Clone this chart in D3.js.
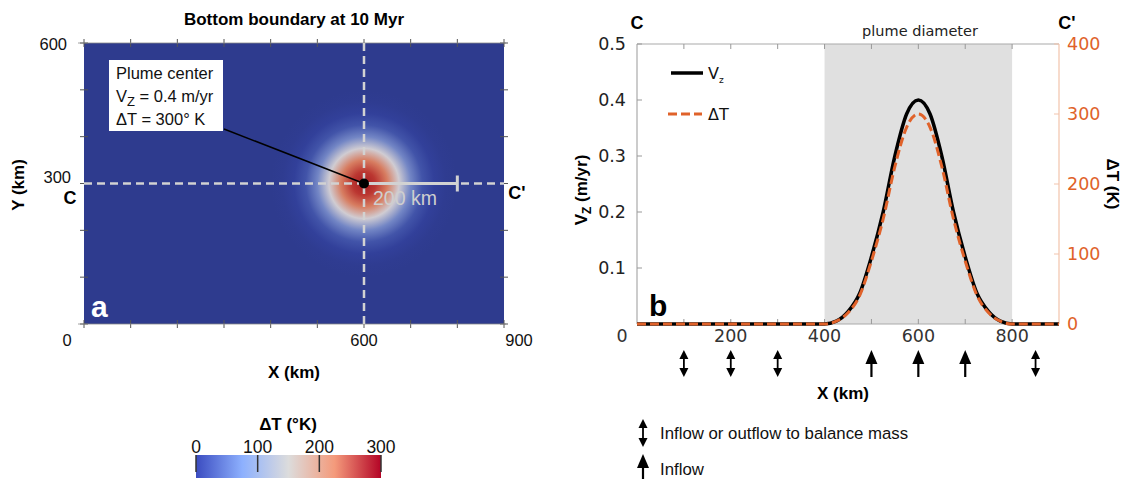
<!DOCTYPE html>
<html><head><meta charset="utf-8">
<script src="https://cdn.jsdelivr.net/npm/d3@7"></script>
<style>
html,body{margin:0;padding:0;background:#fff;}
svg{display:block;}
</style></head>
<body>
<svg id="chart" width="1124" height="479"></svg>
<script>
// ---------- data ----------
const profileX = [0, 400, 425, 450, 475, 500, 525, 550, 575, 600, 625, 650, 675, 700, 725, 750, 775, 800, 900];
const vzValues = [0, 0, 0.005, 0.022, 0.055, 0.12, 0.2, 0.3, 0.375, 0.4, 0.375, 0.3, 0.2, 0.12, 0.055, 0.022, 0.005, 0, 0];
const dTValues = [0, 0, 4, 16, 41, 90, 150, 225, 281, 300, 281, 225, 150, 90, 41, 16, 4, 0, 0];
const plumeCenter = {x: 600, y: 300};
const plumeRange = [400, 800];
const balanceArrowsX = [100, 200, 300, 850];
const inflowArrowsX = [500, 600, 700];
const leftXTicks = [0, 600, 900];
const leftYTicks = [300, 600];
const rightXTicks = [200, 400, 600, 800];
const vzTicks = [0.1, 0.2, 0.3, 0.4, 0.5];
const dTTicks = [0, 100, 200, 300, 400];
const colorbarTicks = [0, 100, 200, 300];

const svg = d3.select("#chart");
const SANS = "'Liberation Sans', Arial, sans-serif";
const DJ = "'DejaVu Sans', sans-serif";
const ORANGE = "#e0622a";

// ---------- left panel ----------
const xL = d3.scaleLinear().domain([0, 900]).range([84, 504]);
const yL = d3.scaleLinear().domain([0, 600]).range([324, 43]);

const heatColor = d3.scaleLinear()
  .domain([0, 16, 48, 85, 120, 150, 180, 210, 240, 275, 300])
  .range(["#2e3b8e", "#32409a", "#4659ad", "#6b7fc2", "#a3b0d6", "#d0ccd2", "#dfb29c", "#dc9070", "#d26a52", "#c23f36", "#a51c22"]).clamp(true);
const barColor = d3.scaleLinear().domain([0, 75, 150, 225, 300])
  .range(["#3b4cc0", "#8db0fe", "#dcdcdc", "#f49a7b", "#b40426"]);

const defs = svg.append("defs");
// radial gradient built from the C-C' delta T profile (center -> 800 km)
const half = profileX.map((x, i) => ({x, v: dTValues[i]})).filter(d => d.x >= plumeCenter.x && d.x <= plumeRange[1]);
const rMax = plumeRange[1] - plumeCenter.x;
const rg = defs.append("radialGradient").attr("id", "plume");
rg.selectAll("stop").data(half).join("stop")
  .attr("offset", d => ((d.x - plumeCenter.x) / rMax * 100) + "%")
  .attr("stop-color", d => heatColor(d.v));

const clip = defs.append("clipPath").attr("id", "clipL");
clip.append("rect").attr("x", xL(0)).attr("y", yL(600)).attr("width", xL(900) - xL(0)).attr("height", yL(0) - yL(600));

svg.append("text").attr("x", 294).attr("y", 25).attr("text-anchor", "middle")
  .style("font", "bold 17px " + SANS).text("Bottom boundary at 10 Myr");

const gL = svg.append("g");
gL.append("rect").attr("x", xL(0)).attr("y", yL(600)).attr("width", xL(900) - xL(0)).attr("height", yL(0) - yL(600))
  .attr("fill", heatColor(0));
gL.append("ellipse").attr("clip-path", "url(#clipL)")
  .attr("cx", xL(plumeCenter.x)).attr("cy", yL(plumeCenter.y))
  .attr("rx", xL(rMax) - xL(0)).attr("ry", yL(0) - yL(rMax))
  .attr("fill", "url(#plume)");

// frame ticks (crosses)
const tickCol = "#555";
d3.range(0, 901, 100).forEach(v => {
  [yL(600), yL(0)].forEach(yy => {
    gL.append("line").attr("x1", xL(v)).attr("x2", xL(v)).attr("y1", yy - 4).attr("y2", yy + 4).attr("stroke", tickCol).attr("stroke-width", 1);
  });
});
d3.range(0, 601, 100).forEach(v => {
  [xL(0), xL(900)].forEach(xx => {
    gL.append("line").attr("y1", yL(v)).attr("y2", yL(v)).attr("x1", xx - 4).attr("x2", xx + 4).attr("stroke", tickCol).attr("stroke-width", 1);
  });
});
gL.append("line").attr("x1", xL(0) - 6).attr("x2", xL(900) + 2).attr("y1", yL(600)).attr("y2", yL(600)).attr("stroke", "#888").attr("stroke-width", 0.8);
gL.append("line").attr("x1", xL(0) - 6).attr("x2", xL(900) + 2).attr("y1", yL(0)).attr("y2", yL(0)).attr("stroke", "#888").attr("stroke-width", 0.8);

// crosshair dashed lines
gL.append("line").attr("x1", xL(0)).attr("x2", xL(900)).attr("y1", yL(plumeCenter.y)).attr("y2", yL(plumeCenter.y))
  .attr("stroke", "#d2d2d2").attr("stroke-width", 2.5).attr("stroke-dasharray", "8,5");
gL.append("line").attr("x1", xL(plumeCenter.x)).attr("x2", xL(plumeCenter.x)).attr("y1", yL(600)).attr("y2", yL(0))
  .attr("stroke", "#d2d2d2").attr("stroke-width", 2.5).attr("stroke-dasharray", "8,5");
// scale bar 200 km
gL.append("line").attr("x1", xL(plumeCenter.x)).attr("x2", xL(plumeCenter.x + 200)).attr("y1", yL(plumeCenter.y)).attr("y2", yL(plumeCenter.y))
  .attr("stroke", "#d2d2d2").attr("stroke-width", 3);
gL.append("line").attr("x1", xL(plumeCenter.x + 200)).attr("x2", xL(plumeCenter.x + 200)).attr("y1", yL(plumeCenter.y) - 8).attr("y2", yL(plumeCenter.y) + 8)
  .attr("stroke", "#d2d2d2").attr("stroke-width", 3);
gL.append("text").attr("x", xL(plumeCenter.x) + 9).attr("y", yL(plumeCenter.y) + 21)
  .attr("fill", "#cfcfcf").style("font", "19.5px " + SANS).text("200 km");

// annotation
gL.append("line").attr("x1", 224).attr("y1", 129).attr("x2", xL(plumeCenter.x)).attr("y2", yL(plumeCenter.y))
  .attr("stroke", "#000").attr("stroke-width", 1.5);
gL.append("rect").attr("x", 109).attr("y", 60).attr("width", 114).attr("height", 71).attr("fill", "#fff");
gL.append("circle").attr("cx", xL(plumeCenter.x)).attr("cy", yL(plumeCenter.y)).attr("r", 5).attr("fill", "#000");
const ann = gL.append("text").style("font", "16.5px " + SANS).attr("fill", "#111");
ann.append("tspan").attr("x", 116).attr("y", 79).text("Plume center");
ann.append("tspan").attr("x", 116).attr("y", 102).text("V");
ann.append("tspan").attr("dy", 4).style("font-size", "13px").text("Z");
ann.append("tspan").attr("dy", -4).text(" = 0.4 m/yr");
ann.append("tspan").attr("x", 116).attr("y", 125).text("ΔT = 300° K");

gL.append("text").attr("x", 91).attr("y", 317).attr("fill", "#fff").style("font", "bold 30px " + SANS).text("a");

// labels
const lblL = svg.append("g").style("font", "16.5px " + SANS).attr("fill", "#111");
leftXTicks.forEach(v => {
  const xx = v === 0 ? 67 : (v === 900 ? 519 : xL(v));
  lblL.append("text").attr("x", xx).attr("y", 346).attr("text-anchor", "middle").text(v);
});
leftYTicks.forEach(v => {
  lblL.append("text").attr("x", v === 600 ? 67 : 71).attr("y", v === 600 ? yL(v) + 7 : yL(v) - 1).attr("text-anchor", "end").text(v);
});
svg.append("text").attr("x", 70).attr("y", 204).attr("text-anchor", "middle").style("font", "bold 18px " + SANS).text("C");
svg.append("text").attr("x", 517).attr("y", 199).attr("text-anchor", "middle").style("font", "bold 18px " + SANS).text("C'");
svg.append("text").attr("x", 294).attr("y", 378).attr("text-anchor", "middle").style("font", "bold 17px " + SANS).text("X (km)");
svg.append("text").attr("transform", "translate(24,185) rotate(-90)").attr("text-anchor", "middle").style("font", "bold 17px " + SANS).text("Y (km)");

// colorbar
const xCB = d3.scaleLinear().domain([0, 300]).range([196, 381]);
const lg = defs.append("linearGradient").attr("id", "cb");
lg.selectAll("stop").data(d3.range(0, 301, 25)).join("stop")
  .attr("offset", d => (d / 300 * 100) + "%").attr("stop-color", d => barColor(d));
svg.append("rect").attr("x", xCB(0)).attr("y", 455).attr("width", xCB(300) - xCB(0)).attr("height", 23).attr("fill", "url(#cb)");
colorbarTicks.forEach(v => {
  svg.append("line").attr("x1", xCB(v)).attr("x2", xCB(v)).attr("y1", 455).attr("y2", 472).attr("stroke", "#333").attr("stroke-width", 1.5);
  svg.append("text").attr("x", xCB(v)).attr("y", 453).attr("text-anchor", "middle").style("font", "17.5px " + SANS).attr("fill", "#111").text(v);
});
svg.append("text").attr("x", 288).attr("y", 430).attr("text-anchor", "middle").style("font", "bold 17px " + SANS).text("ΔT (°K)");

// ---------- right panel ----------
const xR = d3.scaleLinear().domain([0, 900]).range([637, 1059]);
const yV = d3.scaleLinear().domain([0, 0.5]).range([324, 44]);
const yT = d3.scaleLinear().domain([0, 400]).range([324, 44]);
const gR = svg.append("g");

gR.append("rect").attr("x", xR(plumeRange[0])).attr("y", yV(0.5)).attr("width", xR(plumeRange[1]) - xR(plumeRange[0]))
  .attr("height", yV(0) - yV(0.5)).attr("fill", "#e0e0e0");

// frame
gR.append("line").attr("x1", xR(0)).attr("x2", xR(900)).attr("y1", yV(0.5)).attr("y2", yV(0.5)).attr("stroke", "#aaa").attr("stroke-width", 1.2);
gR.append("line").attr("x1", xR(0)).attr("x2", xR(0)).attr("y1", yV(0.5)).attr("y2", yV(0)).attr("stroke", "#aaa").attr("stroke-width", 1.2);
gR.append("line").attr("x1", xR(0)).attr("x2", xR(900)).attr("y1", yV(0)).attr("y2", yV(0)).attr("stroke", "#aaa").attr("stroke-width", 1.2);
gR.append("line").attr("x1", xR(900)).attr("x2", xR(900)).attr("y1", yV(0.5)).attr("y2", yV(0)).attr("stroke", "#f2c3ab").attr("stroke-width", 1.2);

d3.range(100, 900, 100).forEach(v => {
  gR.append("line").attr("x1", xR(v)).attr("x2", xR(v)).attr("y1", yV(0.5)).attr("y2", yV(0.5) + 5).attr("stroke", "#999");
  gR.append("line").attr("x1", xR(v)).attr("x2", xR(v)).attr("y1", yV(0)).attr("y2", yV(0) - 5).attr("stroke", "#999");
});
vzTicks.forEach(v => {
  gR.append("line").attr("x1", xR(0)).attr("x2", xR(0) + 5).attr("y1", yV(v)).attr("y2", yV(v)).attr("stroke", "#999");
});
dTTicks.forEach(v => {
  gR.append("line").attr("x1", xR(900)).attr("x2", xR(900) - 5).attr("y1", yT(v)).attr("y2", yT(v)).attr("stroke", "#f2c3ab");
});

const ptsV = profileX.map((x, i) => [x, vzValues[i]]);
const ptsT = profileX.map((x, i) => [x, dTValues[i]]);
gR.append("path").datum(ptsV)
  .attr("d", d3.line().x(d => xR(d[0])).y(d => yV(d[1])).curve(d3.curveMonotoneX))
  .attr("fill", "none").attr("stroke", "#000").attr("stroke-width", 3.5);
gR.append("path").datum(ptsT)
  .attr("d", d3.line().x(d => xR(d[0])).y(d => yT(d[1])).curve(d3.curveMonotoneX))
  .attr("fill", "none").attr("stroke", ORANGE).attr("stroke-width", 3).attr("stroke-dasharray", "9,4");

// legend
gR.append("line").attr("x1", 671).attr("x2", 703).attr("y1", 73).attr("y2", 73).attr("stroke", "#000").attr("stroke-width", 3.5);
const lv = gR.append("text").attr("x", 708).attr("y", 79).style("font", "16px " + DJ).attr("fill", "#111");
lv.append("tspan").text("V");
lv.append("tspan").attr("dy", 4).style("font-size", "9px").text("z");
gR.append("line").attr("x1", 668).attr("x2", 702).attr("y1", 114).attr("y2", 114).attr("stroke", ORANGE).attr("stroke-width", 3).attr("stroke-dasharray", "9,4");
gR.append("text").attr("x", 708).attr("y", 120).style("font", "16px " + DJ).attr("fill", "#111").text("ΔT");

gR.append("text").attr("x", 649).attr("y", 316).style("font", "bold 30px " + SANS).attr("fill", "#000").text("b");

// tick labels
const tl = svg.append("g").style("font", "17.5px " + DJ);
rightXTicks.forEach(v => tl.append("text").attr("x", xR(v)).attr("y", 342).attr("text-anchor", "middle").attr("fill", "#333").text(v));
tl.append("text").attr("x", 622).attr("y", 342).attr("text-anchor", "middle").attr("fill", "#333").text("0");
vzTicks.forEach(v => tl.append("text").attr("x", 626).attr("y", yV(v) + 6).attr("text-anchor", "end").attr("fill", "#222").text(v.toFixed(1)));
dTTicks.forEach(v => tl.append("text").attr("x", 1067).attr("y", yT(v) + 6).attr("text-anchor", "start").attr("fill", ORANGE).text(v));

svg.append("text").attr("x", 920).attr("y", 36).attr("text-anchor", "middle").style("font", "14.5px " + DJ).attr("fill", "#222").text("plume diameter");
svg.append("text").attr("x", 637).attr("y", 29).attr("text-anchor", "middle").style("font", "bold 18px " + SANS).text("C");
svg.append("text").attr("x", 1067).attr("y", 29).attr("text-anchor", "middle").style("font", "bold 18px " + SANS).text("C'");
svg.append("text").attr("x", 843).attr("y", 399).attr("text-anchor", "middle").style("font", "bold 17px " + SANS).text("X (km)");
const yl = svg.append("text").attr("transform", "translate(587,190) rotate(-90)").attr("text-anchor", "middle").style("font", "bold 17px " + SANS);
yl.append("tspan").text("V");
yl.append("tspan").attr("dy", 4).style("font-size", "12px").text("Z");
yl.append("tspan").attr("dy", -4).text(" (m/yr)");
svg.append("text").attr("transform", "translate(1107,184) rotate(90)").attr("text-anchor", "middle").style("font", "bold 17px " + SANS).text("ΔT (K)");

// arrows
function upArrow(g, x, yTop, len) {
  g.append("path").attr("d", `M${x},${yTop} L${x - 6},${yTop + 14} L${x + 6},${yTop + 14} Z`).attr("fill", "#000");
  g.append("line").attr("x1", x).attr("x2", x).attr("y1", yTop + 12).attr("y2", yTop + len).attr("stroke", "#000").attr("stroke-width", 2.2);
}
function dblArrow(g, x, yTop, len) {
  g.append("path").attr("d", `M${x},${yTop} L${x - 4.5},${yTop + 9} L${x + 4.5},${yTop + 9} Z`).attr("fill", "#000");
  g.append("path").attr("d", `M${x},${yTop + len} L${x - 4.5},${yTop + len - 9} L${x + 4.5},${yTop + len - 9} Z`).attr("fill", "#000");
  g.append("line").attr("x1", x).attr("x2", x).attr("y1", yTop + 7).attr("y2", yTop + len - 7).attr("stroke", "#000").attr("stroke-width", 1.8);
}
const ga = svg.append("g");
balanceArrowsX.forEach(v => dblArrow(ga, xR(v), 350, 27));
inflowArrowsX.forEach(v => upArrow(ga, xR(v), 350, 27));
dblArrow(ga, 643, 419, 28);
upArrow(ga, 643, 454, 25);
svg.append("text").attr("x", 660).attr("y", 439).style("font", "16.8px " + SANS).attr("fill", "#111").text("Inflow or outflow to balance mass");
svg.append("text").attr("x", 660).attr("y", 475).style("font", "16.8px " + SANS).attr("fill", "#111").text("Inflow");
</script>
</body></html>
